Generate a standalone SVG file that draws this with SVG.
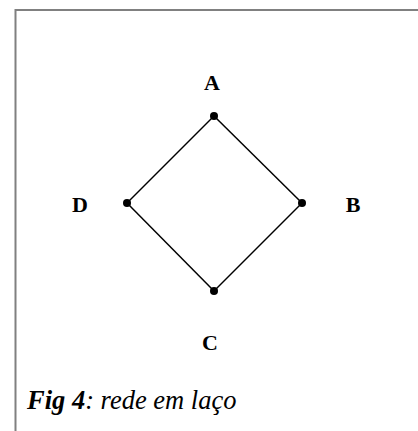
<svg xmlns="http://www.w3.org/2000/svg" width="418" height="431" viewBox="0 0 418 431">
<style>
.lbl{font-family:"Liberation Serif","Times New Roman",serif;font-weight:bold;font-size:22px;fill:#000;text-anchor:middle}
.cap{font-family:"Liberation Serif","Times New Roman",serif;font-style:italic;font-size:26.5px;fill:#000}
.edge{stroke:#000;stroke-width:1.5;fill:none}
.dot{fill:#000}
</style>
<rect x="0" y="0" width="418" height="431" fill="#fff"/>
<path d="M15.5,440 V10 H430" fill="none" stroke="#808080" stroke-width="2"/>
<g id="connectors">
<line class="edge" x1="214" y1="116" x2="302" y2="203"/>
<line class="edge" x1="302" y1="203" x2="214" y2="291"/>
<line class="edge" x1="214" y1="291" x2="127" y2="203"/>
<line class="edge" x1="127" y1="203" x2="214" y2="116"/>
</g>
<g id="node-A"><circle class="dot" cx="214" cy="116" r="4"/><text class="lbl" x="212" y="90">A</text></g>
<g id="node-B"><circle class="dot" cx="302" cy="203" r="4"/><text class="lbl" x="353" y="212">B</text></g>
<g id="node-C"><circle class="dot" cx="214" cy="291" r="4"/><text class="lbl" x="210" y="350">C</text></g>
<g id="node-D"><circle class="dot" cx="127" cy="203" r="4"/><text class="lbl" x="80" y="212">D</text></g>
<text class="cap" x="27" y="409"><tspan font-weight="bold">Fig 4</tspan>: rede em laço</text>
</svg>
